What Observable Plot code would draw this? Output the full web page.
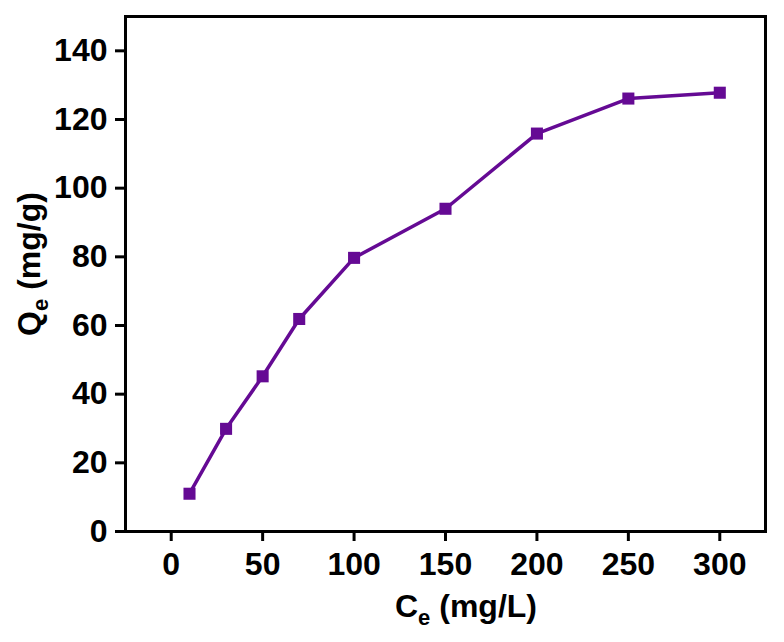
<!DOCTYPE html>
<html>
<head>
<meta charset="utf-8">
<script src="https://cdn.jsdelivr.net/npm/d3@7"></script>
<script src="https://cdn.jsdelivr.net/npm/@observablehq/plot@0.6"></script>
<style>
  html, body { margin: 0; padding: 0; background: #fff; }
  #chart { width: 784px; height: 642px; }
</style>
</head>
<body>
<div id="chart"></div>
<script>
// Equilibrium concentration (mg/L) and adsorption capacity (mg/g)
const ce = [10, 30, 50, 70, 100, 150, 200, 250, 300];
const qe = [11.0, 29.9, 45.2, 61.9, 79.7, 94.0, 115.9, 126.1, 127.8];

const xTicks = [0, 50, 100, 150, 200, 250, 300];
const yTicks = [0, 20, 40, 60, 80, 100, 120, 140];

const purple = "#650a94";
const fontFamily = "'Liberation Sans', Arial, sans-serif";

const data = ce.map((c, i) => ({ce: c, qe: qe[i]}));

const plot = Plot.plot({
  width: 784,
  height: 642,
  marginLeft: 125,
  marginRight: 19,
  marginTop: 16,
  marginBottom: 111,
  x: {domain: [-25, 325]},
  y: {domain: [0, 150]},
  style: {
    fontFamily,
    fontSize: "32px",
    fontWeight: "bold",
    color: "#000",
    background: "#fff",
    overflow: "visible"
  },
  marks: [
    Plot.axisX({ticks: xTicks, tickSize: 10, tickPadding: 11, strokeWidth: 3, label: null, fontSize: 32}),
    Plot.axisY({ticks: yTicks, tickSize: 10, tickPadding: 8, strokeWidth: 3, label: null, fontSize: 32}),
    Plot.line(data, {x: "ce", y: "qe", stroke: purple, strokeWidth: 3.5}),
    Plot.dot(data, {x: "ce", y: "qe", symbol: "square", r: 6.8, fill: purple, stroke: "none"}),
    Plot.frame({stroke: "#000", strokeWidth: 3})
  ]
});

document.getElementById("chart").appendChild(plot);

// Axis titles with subscripts
const svg = d3.select(plot);

const xt = svg.append("text")
  .attr("x", 466)
  .attr("y", 617)
  .attr("text-anchor", "middle")
  .attr("font-family", fontFamily)
  .attr("font-weight", "bold")
  .attr("font-size", 32)
  .attr("fill", "#000");
xt.append("tspan").text("C");
xt.append("tspan").attr("font-size", 22).attr("dy", 8).text("e");
xt.append("tspan").attr("dy", -8).text(" (mg/L)");

const yt = svg.append("text")
  .attr("transform", "translate(40,264) rotate(-90)")
  .attr("text-anchor", "middle")
  .attr("font-family", fontFamily)
  .attr("font-weight", "bold")
  .attr("font-size", 32)
  .attr("fill", "#000");
yt.append("tspan").text("Q");
yt.append("tspan").attr("font-size", 22).attr("dy", 8).text("e");
yt.append("tspan").attr("dy", -8).text(" (mg/g)");
</script>
</body>
</html>
